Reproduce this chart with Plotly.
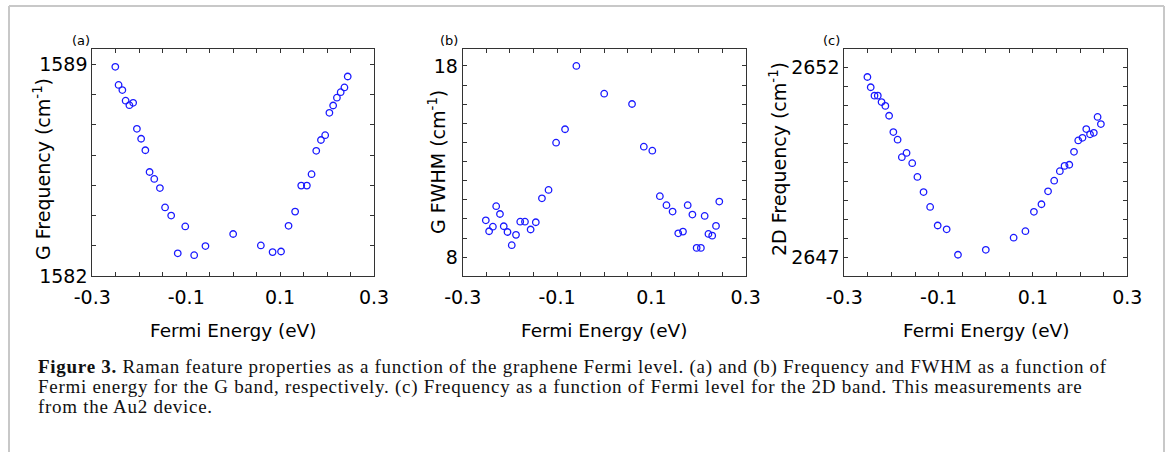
import plotly.graph_objects as go

# ---------------- data ----------------
fermi_energy = [-0.251, -0.244, -0.236, -0.229, -0.221, -0.213, -0.205, -0.196, -0.187, -0.178,
                -0.168, -0.156, -0.145, -0.132, -0.118, -0.102, -0.083, -0.059, 0.0, 0.059,
                0.084, 0.102, 0.118, 0.132, 0.145, 0.157, 0.167, 0.177, 0.187, 0.196,
                0.205, 0.213, 0.221, 0.229, 0.237, 0.244]
g_frequency = [1588.92, 1588.32, 1588.15, 1587.80, 1587.65, 1587.73, 1586.87, 1586.54, 1586.16, 1585.44,
               1585.21, 1584.91, 1584.27, 1584.00, 1582.75, 1583.64, 1582.69, 1582.99, 1583.39, 1583.01,
               1582.79, 1582.81, 1583.66, 1584.13, 1584.99, 1584.99, 1585.37, 1586.14, 1586.50, 1586.66,
               1587.40, 1587.64, 1587.90, 1588.08, 1588.24, 1588.60]
g_fwhm = [9.93, 9.36, 9.60, 10.67, 10.26, 9.62, 9.32, 8.63, 9.17, 9.86,
          9.86, 9.45, 9.83, 11.08, 11.52, 13.99, 14.69, 18.00, 16.55, 16.01,
          13.78, 13.57, 11.19, 10.72, 10.39, 9.25, 9.34, 10.72, 10.23, 8.49,
          8.49, 10.16, 9.22, 9.13, 9.64, 10.91]
frequency_2d = [2651.75, 2651.48, 2651.26, 2651.26, 2651.09, 2650.99, 2650.73, 2650.30, 2650.10, 2649.64,
                2649.75, 2649.48, 2649.12, 2648.72, 2648.33, 2647.84, 2647.74, 2647.07, 2647.20, 2647.52,
                2647.69, 2648.20, 2648.40, 2648.74, 2649.02, 2649.27, 2649.41, 2649.44, 2649.78, 2650.08,
                2650.15, 2650.38, 2650.24, 2650.28, 2650.70, 2650.51]

x_tick_values = [-0.3, -0.1, 0.1, 0.3]
x_tick_labels = ["-0.3", "-0.1", "0.1", "0.3"]
g_frequency_ticks = [1582, 1589]
g_fwhm_ticks = [8, 18]
frequency_2d_ticks = [2647, 2652]
panel_labels = ["(a)", "(b)", "(c)"]
y_titles = ["G Frequency (cm<sup>-1</sup>)", "G FWHM (cm<sup>-1</sup>)", "2D Frequency (cm<sup>-1</sup>)"]
x_title = "Fermi Energy (eV)"
caption_lines = [
    "<b>Figure 3.</b> Raman feature properties as a function of the graphene Fermi level. (a) and (b) Frequency and FWHM as a function of",
    "Fermi energy for the G band, respectively. (c) Frequency as a function of Fermi level for the 2D band. This measurements are",
    "from the Au2 device.",
]

# ---------------- layout helpers ----------------
W, H = 1168, 452


def fx(p):
    return p / W


def fy(p):
    return 1 - p / H


SANS = "DejaVu Sans"
SERIF = "Liberation Serif"
AXIS_COLOR = "#333333"
MARKER_COLOR = "#1a1aff"

panels = [
    dict(x0=92.3, x1=374.0, yrange=[1582.0, 1589.5], ticks=g_frequency_ticks, minor=1.0,
         values=g_frequency, title_x=42, title_y=169, label_x=81),
    dict(x0=462.7, x1=745.7, yrange=[7.02, 18.87], ticks=g_fwhm_ticks, minor=1.0,
         values=g_fwhm, title_x=437, title_y=162, label_x=449),
    dict(x0=844.3, x1=1127.3, yrange=[2646.51, 2652.48], ticks=frequency_2d_ticks, minor=0.5,
         values=frequency_2d, title_x=778, title_y=159, label_x=831),
]
BOX_TOP, BOX_BOTTOM = 49.3, 276.0

fig = go.Figure()
annotations = []
for i, p in enumerate(panels):
    n = "" if i == 0 else str(i + 1)
    fig.add_trace(go.Scatter(
        x=fermi_energy, y=p["values"], mode="markers",
        xaxis="x" + n, yaxis="y" + n,
        marker=dict(symbol="circle-open", size=6.5, color=MARKER_COLOR, line=dict(width=1.3, color=MARKER_COLOR)),
        showlegend=False, hoverinfo="x+y",
    ))
    fig.update_layout(**{
        "xaxis" + n: dict(
            domain=[fx(p["x0"]), fx(p["x1"])], anchor="y" + n, range=[-0.3, 0.3],
            tickmode="array", tickvals=x_tick_values, ticktext=x_tick_labels,
            ticks="inside", ticklen=4, tickwidth=1, tickcolor=AXIS_COLOR,
            minor=dict(dtick=0.05, tick0=-0.3, ticks="inside", ticklen=4, tickcolor=AXIS_COLOR, showgrid=False),
            showline=True, linecolor=AXIS_COLOR, linewidth=1, mirror="ticks",
            showgrid=False, zeroline=False, automargin=False, ticklabelstandoff=4,
            tickfont=dict(family=SANS, size=19, color="black"),
            fixedrange=True,
        ),
        "yaxis" + n: dict(
            domain=[fy(BOX_BOTTOM), fy(BOX_TOP)], anchor="x" + n, range=p["yrange"],
            tickmode="array", tickvals=p["ticks"], ticktext=[str(t) for t in p["ticks"]],
            ticks="inside", ticklen=4, tickwidth=1, tickcolor=AXIS_COLOR,
            minor=dict(dtick=p["minor"], tick0=p["ticks"][0], ticks="inside", ticklen=4, tickcolor=AXIS_COLOR, showgrid=False),
            showline=True, linecolor=AXIS_COLOR, linewidth=1, mirror="ticks",
            showgrid=False, zeroline=False, automargin=False,
            tickfont=dict(family=SANS, size=19, color="black"),
            fixedrange=True,
        ),
    })
    # axis titles
    annotations.append(dict(
        text=x_title, xref="paper", yref="paper", x=fx((p["x0"] + p["x1"]) / 2), y=fy(330),
        xanchor="center", yanchor="middle", showarrow=False,
        font=dict(family=SANS, size=18.5, color="black"),
    ))
    annotations.append(dict(
        text=y_titles[i], xref="paper", yref="paper", x=fx(p["title_x"]), y=fy(p["title_y"]),
        xanchor="center", yanchor="middle", showarrow=False, textangle=-90,
        font=dict(family=SANS, size=19, color="black"),
    ))
    annotations.append(dict(
        text=panel_labels[i], xref="paper", yref="paper", x=fx(p["label_x"]), y=fy(40),
        xanchor="center", yanchor="middle", showarrow=False,
        font=dict(family=SANS, size=13, color="black"),
    ))

caption_y = [367, 386.5, 406]
for line, yy in zip(caption_lines, caption_y):
    annotations.append(dict(
        text='<span style="letter-spacing:0.72px">' + line + '</span>',
        xref="paper", yref="paper", x=fx(36), y=fy(yy),
        xanchor="left", yanchor="middle", showarrow=False,
        font=dict(family=SERIF, size=19, color="#111111"),
    ))

frame_color = "#c8c8c8"
shapes = [
    dict(type="line", xref="paper", yref="paper", x0=fx(9), x1=fx(9), y0=fy(6), y1=fy(H + 2),
         line=dict(color=frame_color, width=2)),
    dict(type="line", xref="paper", yref="paper", x0=fx(9), x1=fx(1164), y0=fy(6), y1=fy(6),
         line=dict(color=frame_color, width=2)),
    dict(type="line", xref="paper", yref="paper", x0=fx(1164), x1=fx(1164), y0=fy(6), y1=fy(H + 2),
         line=dict(color=frame_color, width=2)),
]

fig.update_layout(
    template="none",
    width=W, height=H, margin=dict(l=0, r=0, t=0, b=0, autoexpand=False),
    paper_bgcolor="white", plot_bgcolor="white",
    annotations=annotations, shapes=shapes,
    font=dict(family=SANS, color="black"),
)

fig.write_html("out.html", config={"displayModeBar": False},
               post_script="document.body.style.margin='0px';")
